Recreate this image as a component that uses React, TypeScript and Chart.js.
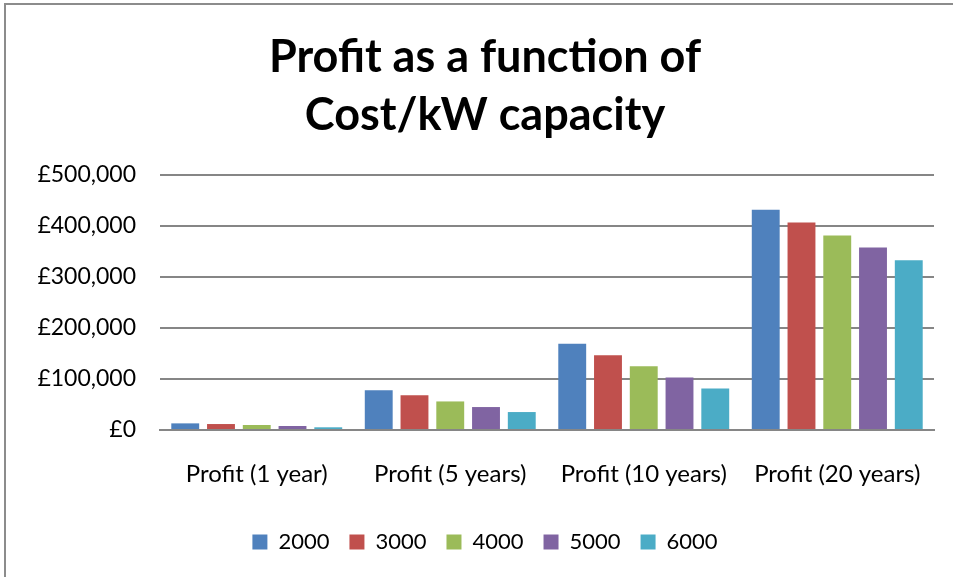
import React, { useEffect, useRef } from "react";
import { Chart, registerables } from "chart.js";

Chart.register(...registerables);

const categories = ["Profit (1 year)", "Profit (5 years)", "Profit (10 years)", "Profit (20 years)"];
const seriesNames = ["2000", "3000", "4000", "5000", "6000"];
const s2000 = [13000, 77700, 169000, 432000];
const s3000 = [11700, 67900, 146800, 407000];
const s4000 = [9800, 56000, 125200, 381600];
const s5000 = [7800, 45000, 103000, 358000];
const s6000 = [5300, 35200, 81600, 333000];
const seriesValues = [s2000, s3000, s4000, s5000, s6000];
const colors = ["#4F81BD", "#C0504D", "#9BBB59", "#8064A2", "#4BACC6"];
const yMin = 0;
const yMax = 500000;
const yStep = 100000;
const titleLines = ["Profit as a function of", "Cost/kW capacity"];

const FONT = "Lato, 'Open Sans', sans-serif";

export default function App() {
  const ref = useRef<HTMLCanvasElement | null>(null);

  useEffect(() => {
    document.body.style.margin = "0";
    document.body.style.overflow = "hidden";
    const canvas = ref.current;
    if (!canvas) return;
    const chart = new Chart(canvas, {
      type: "bar",
      data: {
        labels: categories,
        datasets: seriesNames.map((name, i) => ({
          label: name,
          data: seriesValues[i],
          backgroundColor: colors[i],
          borderWidth: 0,
          categoryPercentage: 0.924,
          barPercentage: 0.78,
        })),
      },
      options: {
        responsive: false,
        animation: false,
        devicePixelRatio: 1,
        layout: { padding: { left: 36, right: 19, top: 0, bottom: 14 } },
        plugins: {
          title: {
            display: true,
            text: titleLines,
            color: "#000",
            font: { family: FONT, size: 45, weight: "bold", lineHeight: 58 / 45 },
            padding: { top: 28, bottom: 31 },
          },
          legend: {
            position: "bottom",
            labels: {
              boxWidth: 15,
              boxHeight: 15,
              color: "#000",
              font: { family: FONT, size: 22 },
              padding: 20,
            },
          },
          tooltip: { enabled: false },
        },
        scales: {
          x: {
            grid: { display: false, drawTicks: false },
            border: { display: true, color: "#868686", width: 2 },
            ticks: { color: "#000", font: { family: FONT, size: 24 }, padding: 30, maxRotation: 0 },
            afterFit: (s: any) => {
              s.height = 81;
            },
          },
          y: {
            min: yMin,
            max: yMax,
            grid: { color: "#868686", lineWidth: 2, drawTicks: false },
            border: { display: false },
            ticks: {
              stepSize: yStep,
              color: "#000",
              font: { family: FONT, size: 23 },
              padding: 24,
              callback: (v: any) => "£" + Number(v).toLocaleString("en-GB"),
            },
            afterFit: (s: any) => {
              s.width = 124;
            },
          },
        },
      },
    });
    return () => chart.destroy();
  }, []);

  return (
    <div style={{ position: "fixed", left: 0, top: 0, width: 953, height: 577, overflow: "hidden", background: "#fff" }}>
      <div
        style={{
          position: "absolute",
          left: 4,
          top: 3,
          width: 1000,
          height: 1000,
          border: "2px solid #8c8c8c",
          boxSizing: "border-box",
        }}
      />
      <canvas ref={ref} width={953} height={577} style={{ position: "absolute", left: 0, top: 0 }} />
    </div>
  );
}
